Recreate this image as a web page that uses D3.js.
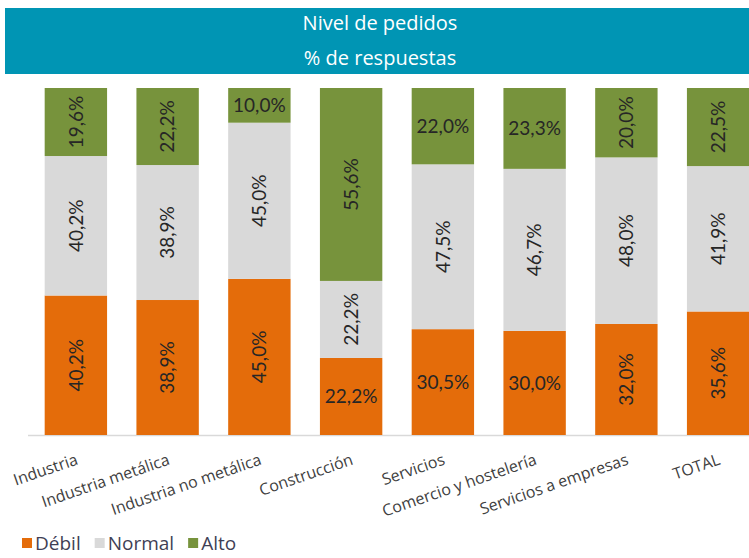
<!DOCTYPE html>
<html>
<head>
<meta charset="utf-8">
<script src="https://cdn.jsdelivr.net/npm/d3@7"></script>
<style>
  body { margin: 0; background: #fff; overflow: hidden; }
  svg { display: block; }
</style>
</head>
<body>
<div id="chart"></div>
<script>
const categories = [
  "Industria",
  "Industria metálica",
  "Industria no metálica",
  "Construcción",
  "Servicios",
  "Comercio y hostelería",
  "Servicios a empresas",
  "TOTAL",
];
const seriesNames = ["Débil", "Normal", "Alto"];
const debil = [40.2, 38.9, 45.0, 22.2, 30.5, 30.0, 32.0, 35.6];
const normal = [40.2, 38.9, 45.0, 22.2, 47.5, 46.7, 48.0, 41.9];
const alto = [19.6, 22.2, 10.0, 55.6, 22.0, 23.3, 20.0, 22.5];
// labels that Excel left horizontal ("category|series")
const flatLabels = [
  "Construcción|Débil",
  "Servicios|Débil",
  "Comercio y hostelería|Débil",
  "Industria no metálica|Alto",
  "Servicios|Alto",
  "Comercio y hostelería|Alto",
];

const COLORS = { "Débil": "#E46C0A", "Normal": "#D9D9D9", "Alto": "#77933C" };
const WIDTH = 749, HEIGHT = 558;
const TOP = 88, BASE = 435;
const FONT = "'Open Sans', sans-serif";

const rows = categories.map((c, i) => ({
  cat: c, "Débil": debil[i], "Normal": normal[i], "Alto": alto[i],
}));
const stacked = d3.stack().keys(seriesNames)(rows);

const svg = d3.select("#chart").append("svg")
  .attr("width", WIDTH).attr("height", HEIGHT);

// title band
svg.append("rect")
  .attr("x", 5).attr("y", 8).attr("width", WIDTH - 5).attr("height", 66)
  .attr("fill", "#0095B4");
svg.append("text")
  .attr("x", 380).attr("y", 30).attr("text-anchor", "middle")
  .attr("fill", "#fff").style("font-family", FONT).style("font-size", "20px")
  .text("Nivel de pedidos");
svg.append("text")
  .attr("x", 380).attr("y", 65).attr("text-anchor", "middle")
  .attr("fill", "#fff").style("font-family", FONT).style("font-size", "20px")
  .text("% de respuestas");

const x = d3.scaleBand().domain(categories).range([30, 764]).paddingInner(0.32).paddingOuter(0.16);
const y = d3.scaleLinear().domain([0, 100]).range([BASE, TOP]);

// axis line
svg.append("line")
  .attr("x1", 28).attr("x2", WIDTH).attr("y1", BASE + 0.5).attr("y2", BASE + 0.5)
  .attr("stroke", "#D9D9D9").attr("stroke-width", 1.5);

const groups = svg.selectAll("g.serie").data(stacked).join("g")
  .attr("class", "serie").attr("fill", (d) => COLORS[d.key]);

groups.selectAll("rect").data((d) => d).join("rect")
  .attr("x", (d) => x(d.data.cat))
  .attr("width", x.bandwidth())
  .attr("y", (d) => y(d[1]))
  .attr("height", (d) => y(d[0]) - y(d[1]));

// data labels
stacked.forEach((s) => {
  s.forEach((d) => {
    const v = d[1] - d[0];
    const cx = x(d.data.cat) + x.bandwidth() / 2;
    const cy = (y(d[0]) + y(d[1])) / 2;
    const flat = flatLabels.includes(d.data.cat + "|" + s.key);
    svg.append("text")
      .attr("transform", `translate(${cx},${cy})` + (flat ? "" : " rotate(-90)"))
      .attr("text-anchor", "middle").attr("dy", "0.36em")
      .attr("fill", "#262626").style("font-family", "Lato, sans-serif").style("font-size", "19px")
      .text(d3.format(".1f")(v).replace(".", ",") + "%");
  });
});

// category labels
svg.selectAll("text.cat").data(categories).join("text")
  .attr("class", "cat")
  .attr("transform", (d) => `translate(${x(d) + x.bandwidth() / 2 + 3},${BASE + 29}) rotate(-19)`)
  .attr("text-anchor", "end")
  .attr("fill", "#404040").style("font-family", FONT).style("font-size", "16px")
  .text((d) => d);

// legend
const legend = svg.append("g").attr("transform", "translate(22,543)");
let lx = 0;
seriesNames.forEach((n) => {
  legend.append("rect").attr("x", lx).attr("y", -5).attr("width", 10).attr("height", 10)
    .attr("fill", COLORS[n]);
  const t = legend.append("text").attr("x", lx + 13).attr("y", 0).attr("dy", "0.35em")
    .attr("fill", "#3F3F55").style("font-family", FONT).style("font-size", "19px")
    .text(n);
  lx += 13 + t.node().getComputedTextLength() + 14;
});
</script>
</body>
</html>
